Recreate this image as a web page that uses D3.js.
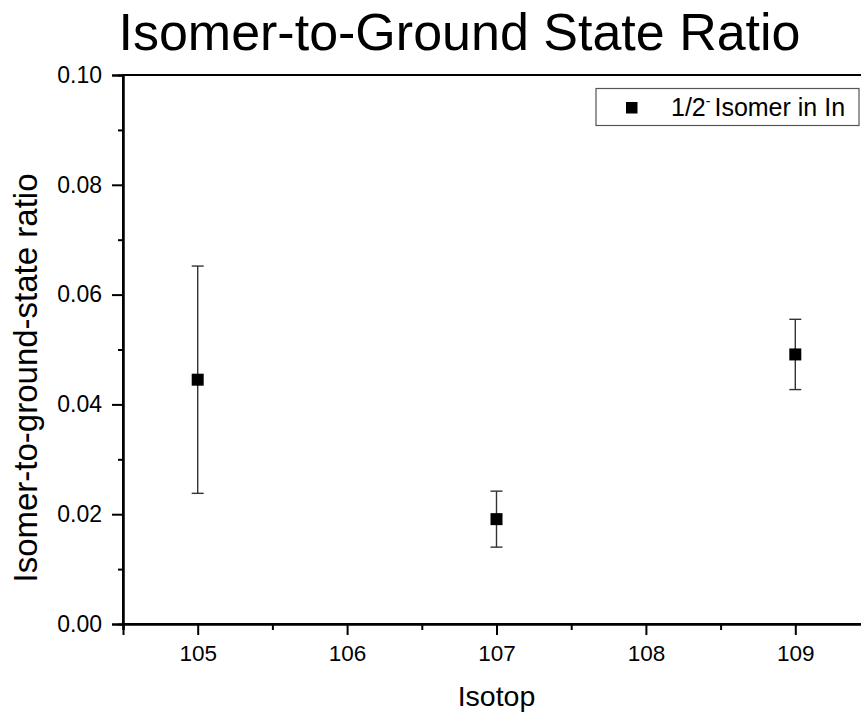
<!DOCTYPE html>
<html>
<head>
<meta charset="utf-8">
<script src="https://cdn.jsdelivr.net/npm/d3@7"></script>
<style>
  html, body { margin: 0; padding: 0; background: #fff; }
  svg { display: block; font-family: "Liberation Sans", Arial, sans-serif; }
</style>
</head>
<body>
<svg id="chart" width="861" height="714"></svg>
<script>
// Isomer-to-ground-state ratio of the 1/2- isomer in indium isotopes
const isotopes = [105, 107, 109];
const ratios = [0.0445, 0.0191, 0.0491];
const ratioErrors = [0.0207, 0.0051, 0.0064];

const xMajorTicks = [105, 106, 107, 108, 109];
const yMajorTicks = [0.00, 0.02, 0.04, 0.06, 0.08, 0.10];

const svg = d3.select("#chart");
const plotLeft = 123, plotRight = 870, plotTop = 75, plotBottom = 624;

const x = d3.scaleLinear().domain([104.5, 109.5]).range([plotLeft, plotRight]);
const y = d3.scaleLinear().domain([0, 0.10]).range([plotBottom, plotTop]);

// Title
svg.append("text")
  .attr("x", 459.5).attr("y", 49.5)
  .attr("text-anchor", "middle")
  .attr("font-size", 52)
  .text("Isomer-to-Ground State Ratio");

// Frame (top and right edges)
svg.append("rect")
  .attr("x", plotLeft).attr("y", plotTop)
  .attr("width", plotRight - plotLeft).attr("height", plotBottom - plotTop)
  .attr("fill", "none").attr("stroke", "#000").attr("stroke-width", 2);

// X axis with major and minor ticks
const xAxis = svg.append("g").attr("transform", `translate(0,${plotBottom})`);
xAxis.call(d3.axisBottom(x).tickValues(xMajorTicks).tickFormat(d3.format("d"))
  .tickSize(11).tickPadding(10));
xAxis.append("g").call(d3.axisBottom(x).tickValues(d3.range(104.5, 109.6, 1))
  .tickSize(6).tickFormat(""));
xAxis.selectAll(".domain").attr("stroke-width", 2);
xAxis.selectAll(".tick line").attr("stroke-width", 2);
xAxis.selectAll(".tick text").attr("font-size", 22.5).attr("fill", "#000")
  .attr("font-family", "Liberation Sans, Arial, sans-serif");

// Y axis with major and minor ticks
const yAxis = svg.append("g").attr("transform", `translate(${plotLeft},0)`);
yAxis.call(d3.axisLeft(y).tickValues(yMajorTicks).tickFormat(d3.format(".2f"))
  .tickSize(11).tickPadding(10));
yAxis.append("g").call(d3.axisLeft(y).tickValues([0.01, 0.03, 0.05, 0.07, 0.09])
  .tickSize(5).tickFormat(""));
yAxis.selectAll(".domain").attr("stroke-width", 2);
yAxis.selectAll(".tick line").attr("stroke-width", 2);
yAxis.selectAll(".tick text").attr("font-size", 23).attr("fill", "#000")
  .attr("font-family", "Liberation Sans, Arial, sans-serif");

// Axis titles
svg.append("text")
  .attr("x", (plotLeft + plotRight) / 2).attr("y", 706)
  .attr("text-anchor", "middle").attr("font-size", 28.5)
  .text("Isotop");
svg.append("text")
  .attr("transform", "translate(37,378) rotate(-90)")
  .attr("text-anchor", "middle").attr("font-size", 33)
  .text("Isomer-to-ground-state ratio");

// Error bars
const capHalf = 6;
const points = isotopes.map((d, i) => ({ iso: d, r: ratios[i], e: ratioErrors[i] }));
const eb = svg.append("g").attr("stroke", "#333").attr("stroke-width", 1.4);
eb.selectAll("line.v").data(points).join("line").attr("class", "v")
  .attr("x1", d => x(d.iso)).attr("x2", d => x(d.iso))
  .attr("y1", d => y(d.r + d.e)).attr("y2", d => y(d.r - d.e));
eb.selectAll("line.hi").data(points).join("line").attr("class", "hi")
  .attr("x1", d => x(d.iso) - capHalf).attr("x2", d => x(d.iso) + capHalf)
  .attr("y1", d => y(d.r + d.e)).attr("y2", d => y(d.r + d.e));
eb.selectAll("line.lo").data(points).join("line").attr("class", "lo")
  .attr("x1", d => x(d.iso) - capHalf).attr("x2", d => x(d.iso) + capHalf)
  .attr("y1", d => y(d.r - d.e)).attr("y2", d => y(d.r - d.e));

// Square markers
const ms = 12;
svg.append("g").selectAll("rect").data(points).join("rect")
  .attr("x", d => x(d.iso) - ms / 2).attr("y", d => y(d.r) - ms / 2)
  .attr("width", ms).attr("height", ms).attr("fill", "#000");

// Legend
const legend = svg.append("g");
legend.append("rect")
  .attr("x", 596).attr("y", 88.5).attr("width", 263).attr("height", 37)
  .attr("fill", "#fff").attr("stroke", "#555").attr("stroke-width", 1.2);
legend.append("rect")
  .attr("x", 626).attr("y", 102).attr("width", 11.5).attr("height", 11.5)
  .attr("fill", "#000");
const lt = legend.append("text").attr("x", 671).attr("y", 115.5).attr("font-size", 25);
lt.append("tspan").text("1/2");
lt.append("tspan").attr("font-size", 14).attr("dy", -10).text("-");
lt.append("tspan").attr("dy", 10).attr("dx", 4).text("Isomer in In");
</script>
</body>
</html>
